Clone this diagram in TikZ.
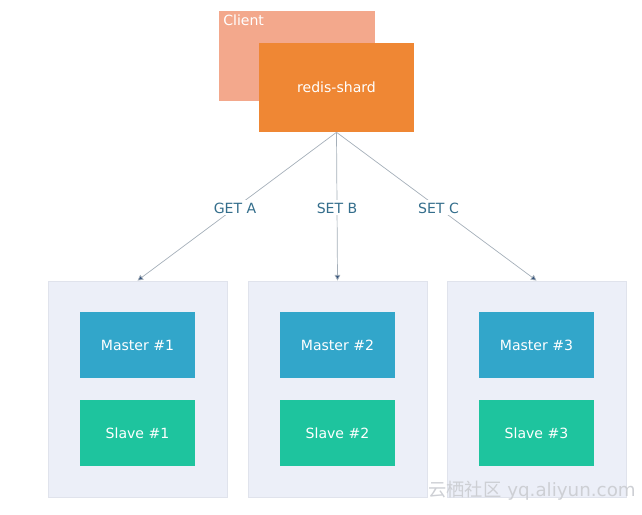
\documentclass[tikz,border=0pt]{standalone}
\usepackage{fontspec}
\setmainfont{DejaVu Sans}
\newfontfamily\cjkfont{Noto Sans CJK SC}
\usepackage{tikz}
\usetikzlibrary{arrows.meta, positioning}
\definecolor{myclient}{RGB}{243,168,140}
\definecolor{myshard}{RGB}{239,135,52}
\definecolor{mymaster}{RGB}{50,166,202}
\definecolor{myslave}{RGB}{30,196,158}
\definecolor{mygroup}{RGB}{236,239,248}
\definecolor{mygroupedge}{RGB}{224,227,236}
\definecolor{mylabel}{RGB}{52,110,140}
\definecolor{myline}{RGB}{165,175,185}
\definecolor{mytip}{RGB}{55,85,125}
\definecolor{mymark}{RGB}{205,207,212}
\tikzset{
  topbox/.style={rectangle, minimum width=3.9cm, minimum height=2.25cm,
    inner sep=0pt, font=\fontsize{10}{12}\selectfont, text=white},
  grpbox/.style={rectangle, draw=mygroupedge, fill=mygroup,
    minimum width=4.475cm, minimum height=5.4cm, line width=0.6pt},
  master/.style={rectangle, fill=mymaster, text=white,
    minimum width=2.85cm, minimum height=1.65cm,
    font=\fontsize{10}{12}\selectfont},
  slave/.style={rectangle, fill=myslave, text=white,
    minimum width=2.85cm, minimum height=1.65cm,
    font=\fontsize{10}{12}\selectfont},
  req/.style={-{Triangle[length=4pt, width=4pt, fill=mytip]}, draw=myline, line width=0.5pt},
  cmd/.style={fill=white, text=mylabel, inner sep=1.5pt,
    font=\fontsize{10}{12}\selectfont}
}
\begin{document}
\begin{tikzpicture}[x=0.025cm, y=-0.025cm]
  \useasboundingbox (0,0) rectangle (642,514);

  % Client and redis-shard
  \node[topbox, fill=myclient] (client) at (297,56) {};
  \node[anchor=north west, inner sep=0pt, text=white,
    font=\fontsize{10}{12}\selectfont] (clienttxt) at (223,15) {Client};
  \node[topbox, fill=myshard, minimum width=3.875cm, minimum height=2.225cm] (shard) at (336.5,87.5) {redis-shard};

  % Groups
  \foreach \i/\x in {1/137.5, 2/337.5, 3/536.5} {
    \node[grpbox] (grp\i) at (\x,389) {};
    \node[master] (master\i) at (\x,345) {Master \#\i};
    \node[slave] (slave\i) at (\x,433) {Slave \#\i};
  }

  % Requests
  \draw[req] (shard.south) -- (grp1.north) node[cmd, pos=0.51] {GET A};
  \draw[req] (shard.south) -- (grp2.north) node[cmd, pos=0.51] {SET B};
  \draw[req] (shard.south) -- (grp3.north) node[cmd, pos=0.51] {SET C};

  % Watermark
  \node[anchor=east, text=mymark, inner sep=0pt,
    font=\fontsize{13}{15}\selectfont] (mark) at (636,491) {{\cjkfont 云栖社区} yq.aliyun.com};
\end{tikzpicture}
\end{document}
